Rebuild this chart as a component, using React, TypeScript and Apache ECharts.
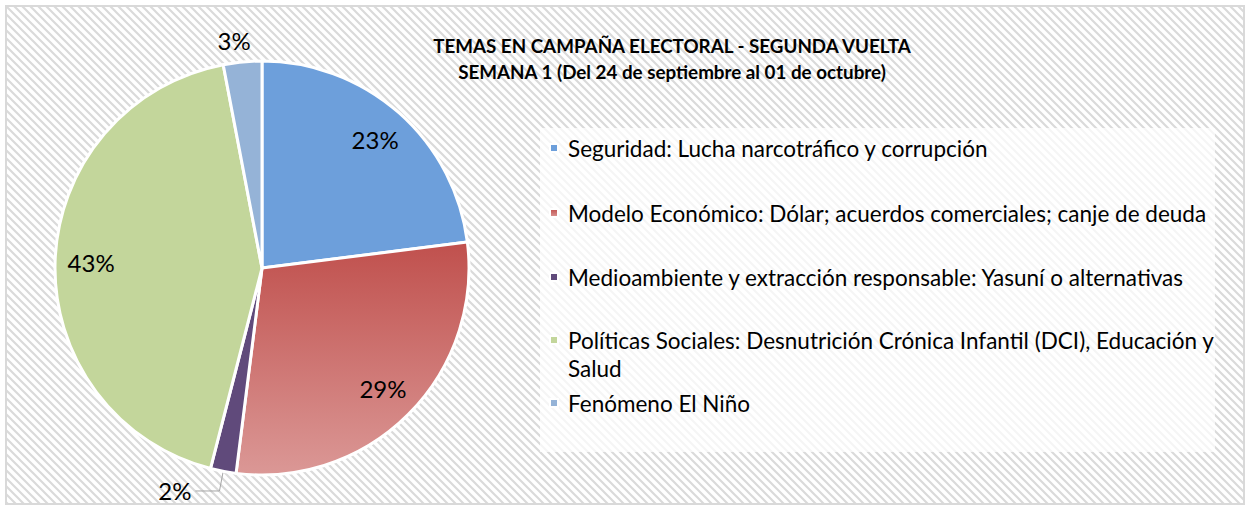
import React, { useEffect, useRef } from "react";
import * as echarts from "echarts";

const titleLines = [
  "TEMAS EN CAMPAÑA ELECTORAL - SEGUNDA VUELTA",
  "SEMANA 1 (Del 24 de septiembre al 01 de octubre)",
];
const categories = [
  "Seguridad: Lucha narcotráfico y corrupción",
  "Modelo Económico: Dólar; acuerdos comerciales; canje de deuda",
  "Medioambiente y extracción responsable: Yasuní o alternativas",
  "Políticas Sociales: Desnutrición Crónica Infantil (DCI), Educación y Salud",
  "Fenómeno El Niño",
];
const values = [23, 29, 2, 43, 3];
const insideLabel = [true, true, false, true, false];

const FONT = "Lato, 'Noto Sans', sans-serif";

function makeHatch(): string {
  const c = document.createElement("canvas");
  c.width = 8;
  c.height = 8;
  const ctx = c.getContext("2d")!;
  ctx.fillStyle = "#ffffff";
  ctx.fillRect(0, 0, 8, 8);
  ctx.strokeStyle = "#dadada";
  ctx.lineWidth = 2.2;
  ctx.beginPath();
  ctx.moveTo(-2, -2);
  ctx.lineTo(10, 10);
  ctx.moveTo(-2, 6);
  ctx.lineTo(2, 10);
  ctx.moveTo(6, -2);
  ctx.lineTo(10, 2);
  ctx.stroke();
  return c.toDataURL();
}

export default function App() {
  const ref = useRef<HTMLDivElement>(null);
  useEffect(() => {
    document.body.style.margin = "0";
    const chart = echarts.init(ref.current!, undefined, { renderer: "svg" });
    const redGrad = new echarts.graphic.LinearGradient(0, 0, 0, 1, [
      { offset: 0, color: "#C0504D" },
      { offset: 1, color: "#DB9896" },
    ]);
    const colors: any[] = ["#6D9FDB", redGrad, "#604A7B", "#C3D69B", "#95B3D7"];
    const hatch = makeHatch();

    const mainData = categories.map((name, i) => ({
      name,
      value: values[i],
      itemStyle: { color: colors[i] },
      label: { show: !insideLabel[i] },
      labelLine: { show: i === 2 },
    }));
    const labelData = categories.map((name, i) => ({
      name,
      value: values[i],
      label: { show: insideLabel[i] },
    }));

    const legendTops = [134, 199, 263, 326, 389];
    const legends = categories.map((name, i) => ({
      show: true,
      orient: "vertical",
      left: 549,
      top: legendTops[i],
      padding: 0,
      data: [name],
      icon: i === 3 ? "path://M0,0L8,0L8,8L0,8Z M0,36" : "rect",
      itemWidth: 8,
      itemHeight: i === 3 ? 36 : 8,
      itemGap: 0,
      selectedMode: false,
      formatter: (n: string) =>
        i === 3 ? "Políticas Sociales: Desnutrición Crónica Infantil (DCI), Educación y\nSalud" : n,
      textStyle: {
        fontFamily: FONT,
        fontSize: 22.5,
        color: "#000",
        lineHeight: 28,
        padding: [0, 0, 0, 5],
      },
    }));

    chart.setOption({
      animation: false,
      graphic: [
        {
          type: "rect",
          z: -10,
          shape: { x: 6, y: 6, width: 1238, height: 498 },
          style: { fill: { image: hatch, repeat: "repeat" } as any, stroke: "#d9d9d9", lineWidth: 2 },
        },
        {
          type: "rect",
          z: -9,
          shape: { x: 540, y: 128, width: 675, height: 324 },
          style: { fill: "rgba(255,255,255,0.72)" },
        },
      ],
      title: {
        text: titleLines.join("\n"),
        left: 667,
        top: 27,
        textAlign: "center",
        textStyle: {
          fontFamily: FONT,
          fontSize: 18.8,
          fontWeight: "bold",
          color: "#000",
          lineHeight: 26,
        },
      },
      legend: legends,
      series: [
        {
          type: "pie",
          center: [262, 268],
          radius: [0, 207],
          startAngle: 90,
          clockwise: true,
          silent: true,
          itemStyle: { borderColor: "#fff", borderWidth: 3 },
          data: mainData,
          label: {
            position: "outside",
            formatter: "{c}%",
            fontFamily: FONT,
            fontSize: 24,
            color: "#000",
            distanceToLabelLine: 4,
          },
          labelLine: {
            length: 20,
            length2: 24,
            lineStyle: { color: "#a6a6a6", width: 1 },
          },
          labelLayout: (p: any) => {
            if (p.dataIndex === 4) return { dx: 38, dy: -2 };
            return {};
          },
        },
        {
          type: "pie",
          center: [262, 268],
          radius: [0, 336],
          startAngle: 90,
          clockwise: true,
          silent: true,
          legendHoverLink: false,
          itemStyle: { color: "rgba(0,0,0,0)", borderWidth: 0 },
          emphasis: { disabled: true },
          data: labelData,
          label: {
            position: "inside",
            formatter: "{c}%",
            fontFamily: FONT,
            fontSize: 24,
            color: "#000",
          },
          labelLine: { show: false },
        },
      ],
    });
    return () => chart.dispose();
  }, []);
  return <div ref={ref} style={{ width: 1250, height: 507 }} />;
}
